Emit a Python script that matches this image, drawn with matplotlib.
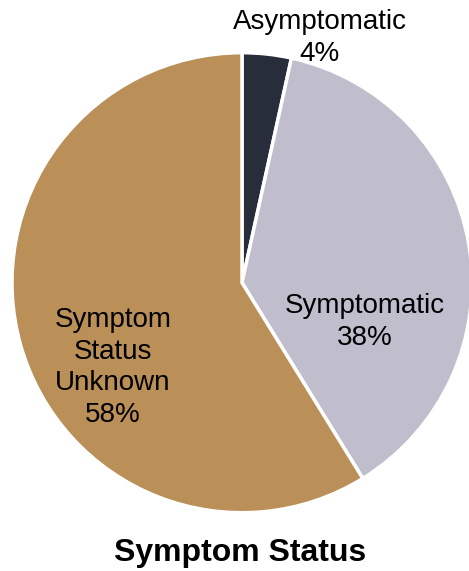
import numpy as np
import matplotlib
matplotlib.use("Agg")
import matplotlib.pyplot as plt

# slice data (clockwise from 12 o'clock), shares as measured from the wedges
labels = ["Asymptomatic", "Symptomatic", "Symptom\nStatus\nUnknown"]
shares = [3.45, 37.75, 58.8]
pct_labels = ["4%", "38%", "58%"]
colors = ["#272D3B", "#C0BECD", "#BA8F58"]
title = "Symptom Status"

plt.rcParams['font.family'] = ['Liberation Sans', 'DejaVu Sans']

fig = plt.figure(figsize=(4.69, 5.71), dpi=100)
ax = fig.add_axes([0.0256, 0.1021, 0.9808, 0.8056])

wedges, _ = ax.pie(shares, colors=colors, startangle=90, counterclock=False,
                   radius=1.0, wedgeprops=dict(edgecolor="white", linewidth=2.5))
ax.set_xlim(-1, 1)
ax.set_ylim(-1, 1)
ax.set_aspect("equal")
ax.axis("off")

# label offsets from the pie centre, in radius units
label_pos = [(0.339, 1.064), (0.535, -0.171), (-0.561, -0.369)]
for lab, pct, (x, y) in zip(labels, pct_labels, label_pos):
    ax.text(x, y, "{}\n{}".format(lab, pct), ha="center", va="center",
            fontsize=20, color="black", linespacing=1.27, clip_on=False)

fig.text(0.512, 0.0315, title, ha="center", va="center", fontsize=23, fontweight="bold")

fig.savefig("out.png", dpi=100)
